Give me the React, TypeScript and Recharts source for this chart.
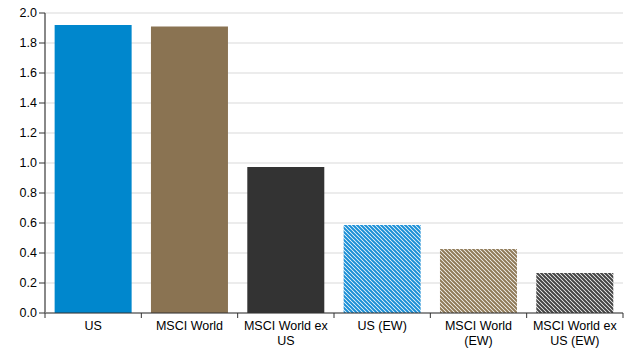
import React from "react";
import { BarChart, Bar, XAxis, YAxis, CartesianGrid, Cell } from "recharts";

const categories = ["US", "MSCI World", "MSCI World ex US", "US (EW)", "MSCI World (EW)", "MSCI World ex US (EW)"];
const labelLines = [["US"], ["MSCI World"], ["MSCI World ex", "US"], ["US (EW)"], ["MSCI World", "(EW)"], ["MSCI World ex", "US (EW)"]];
const values = [1.92, 1.91, 0.973, 0.587, 0.427, 0.267];
const yTicks = [0, 0.2, 0.4, 0.6, 0.8, 1.0, 1.2, 1.4, 1.6, 1.8, 2.0];

const fills = ["#0087CD", "#8A7352", "#333333", "url(#hatchBlue)", "url(#hatchBrown)", "url(#hatchGray)"];

const data = categories.map((c, i) => ({ name: c, value: values[i], idx: i }));

const PLOT_W = 578;
const FONT = "Liberation Sans, Arial, sans-serif";

const XTick = (props: any) => {
  const { x, y, payload, index } = props;
  const half = payload && payload.offset ? payload.offset : PLOT_W / 12;
  const lines = labelLines[index] || [String(payload.value)];
  const axisY = y - 8;
  return (
    <g>
      <line x1={x - half} x2={x - half} y1={axisY} y2={axisY + 5} stroke="#333" strokeWidth={1} />
      {index === categories.length - 1 && (
        <line x1={x + half} x2={x + half} y1={axisY} y2={axisY + 5} stroke="#333" strokeWidth={1} />
      )}
      {lines.map((l, k) => (
        <text key={k} x={x} y={axisY + 17 + k * 15} textAnchor="middle" fontSize={12.5} fill="#000" fontFamily={FONT}>
          {l}
        </text>
      ))}
    </g>
  );
};

export default function App() {
  return (
    <div style={{ position: "absolute", left: 0, top: 0, background: "#fff" }}>
      <BarChart width={624} height={348} data={data} margin={{ top: 13, right: 1, left: 0, bottom: 0 }} barCategoryGap="10%">
        <defs>
          <pattern id="hatchBlue" width="4" height="4" patternUnits="userSpaceOnUse">
            <rect width="4" height="4" fill="#ffffff" />
            <path d="M-1,-1 L5,5 M-1,3 L1,5 M3,-1 L5,1" stroke="#1B8FD6" strokeWidth={2} />
          </pattern>
          <pattern id="hatchBrown" width="4" height="4" patternUnits="userSpaceOnUse">
            <rect width="4" height="4" fill="#ffffff" />
            <path d="M-1,-1 L5,5 M-1,3 L1,5 M3,-1 L5,1" stroke="#8F7A58" strokeWidth={2} />
          </pattern>
          <pattern id="hatchGray" width="4" height="4" patternUnits="userSpaceOnUse">
            <rect width="4" height="4" fill="#ffffff" />
            <path d="M-1,-1 L5,5 M-1,3 L1,5 M3,-1 L5,1" stroke="#444444" strokeWidth={2} />
          </pattern>
        </defs>
        <CartesianGrid vertical={false} stroke="#D9D9D9" strokeWidth={1} />
        <XAxis
          dataKey="name"
          height={35}
          axisLine={{ stroke: "#333", strokeWidth: 1 }}
          tickLine={false}
          interval={0}
          tick={<XTick />}
        />
        <YAxis
          width={45}
          domain={[0, 2]}
          ticks={yTicks}
          interval={0}
          tickFormatter={(v: number) => v.toFixed(1)}
          axisLine={{ stroke: "#888", strokeWidth: 2 }}
          tickLine={{ stroke: "#333" }}
          tickSize={6}
          tick={{ fontSize: 12.5, fill: "#000", fontFamily: FONT }}
        />
        <Bar dataKey="value" isAnimationActive={false}>
          {data.map((d, i) => (
            <Cell key={i} fill={fills[i]} />
          ))}
        </Bar>
      </BarChart>
    </div>
  );
}
